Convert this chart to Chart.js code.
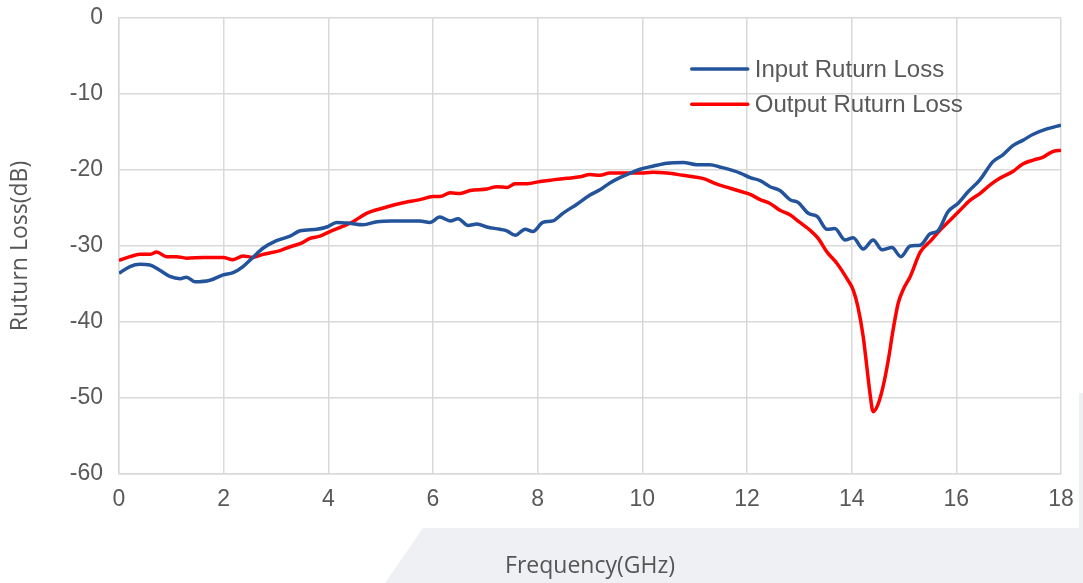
<!DOCTYPE html>
<html>
<head>
<meta charset="utf-8">
<script src="https://cdn.jsdelivr.net/npm/chart.js@4/dist/chart.umd.min.js"></script>
<style>
  html, body { margin: 0; padding: 0; background: #ffffff; }
  #wrap { position: relative; width: 1083px; height: 583px; overflow: hidden; }
  #bg { position: absolute; left: 0; top: 0; width: 1083px; height: 583px; background: #eff0f4;
        clip-path: polygon(1079px 393px, 1083px 393px, 1083px 583px, 385px 583px, 423px 528px, 1079px 528px); }
  #c { position: absolute; left: 0; top: 0; }
</style>
</head>
<body>
<div id="wrap">
  <div id="bg"></div>
  <canvas id="c" width="1083" height="583"></canvas>
</div>
<script>
// ---- data ----
const xTicks = [0, 2, 4, 6, 8, 10, 12, 14, 16, 18];
const yTicks = [0, -10, -20, -30, -40, -50, -60];
const seriesNames = ["Input Ruturn Loss", "Output Ruturn Loss"];

const inputFreq = [0, 0.21, 0.4, 0.59, 0.78, 0.97, 1.17, 1.29, 1.45, 1.74, 1.99, 2.18, 2.37, 2.56, 2.75, 3.01, 3.27, 3.46, 3.78, 3.97, 4.16, 4.4, 4.66, 4.93, 5.2, 5.56, 5.75, 5.94, 6.13, 6.33, 6.48, 6.67, 6.84, 7.03, 7.28, 7.41, 7.57, 7.76, 7.91, 8.1, 8.29, 8.48, 8.75, 9.0, 9.19, 9.38, 9.57, 9.77, 9.96, 10.2, 10.47, 10.78, 11.04, 11.29, 11.48, 11.87, 12.06, 12.25, 12.44, 12.63, 12.82, 12.98, 13.17, 13.34, 13.53, 13.68, 13.87, 14.03, 14.22, 14.41, 14.58, 14.77, 14.94, 15.12, 15.31, 15.5, 15.65, 15.84, 16.03, 16.22, 16.45, 16.7, 16.89, 17.08, 17.27, 17.47, 17.73, 18.0];
const inputLoss = [-33.6, -32.7, -32.4, -32.5, -33.2, -34.0, -34.3, -34.1, -34.7, -34.5, -33.8, -33.5, -32.7, -31.5, -30.3, -29.3, -28.7, -28.0, -27.8, -27.5, -26.9, -27.0, -27.2, -26.8, -26.7, -26.7, -26.7, -26.9, -26.2, -26.7, -26.4, -27.3, -27.1, -27.5, -27.8, -28.0, -28.6, -27.8, -28.1, -26.9, -26.7, -25.7, -24.5, -23.3, -22.6, -21.7, -21.0, -20.4, -19.9, -19.5, -19.1, -19.0, -19.3, -19.3, -19.6, -20.4, -21.0, -21.4, -22.2, -22.7, -23.9, -24.3, -25.7, -26.1, -27.8, -27.7, -29.2, -28.9, -30.4, -29.2, -30.5, -30.2, -31.4, -30.0, -29.9, -28.4, -28.0, -25.5, -24.4, -22.9, -21.3, -18.9, -18.0, -16.8, -16.1, -15.3, -14.6, -14.1];

const outputFreq = [0, 0.21, 0.4, 0.59, 0.72, 0.91, 1.1, 1.29, 1.61, 1.99, 2.18, 2.37, 2.56, 2.75, 3.08, 3.27, 3.46, 3.65, 3.84, 4.03, 4.28, 4.47, 4.73, 5.05, 5.37, 5.75, 6.0, 6.13, 6.33, 6.52, 6.71, 7.03, 7.22, 7.41, 7.57, 7.8, 8.05, 8.29, 8.56, 8.81, 9.0, 9.19, 9.38, 9.71, 9.96, 10.2, 10.47, 10.78, 10.97, 11.2, 11.4, 11.68, 11.87, 12.06, 12.25, 12.44, 12.63, 12.82, 13.01, 13.2, 13.36, 13.53, 13.72, 13.91, 14.03, 14.12, 14.22, 14.29, 14.35, 14.41, 14.5, 14.6, 14.7, 14.79, 14.89, 14.98, 15.12, 15.31, 15.5, 15.69, 15.88, 16.07, 16.26, 16.45, 16.64, 16.83, 17.08, 17.27, 17.47, 17.66, 17.83, 18.0];
const outputLoss = [-31.9, -31.4, -31.1, -31.1, -30.8, -31.4, -31.4, -31.6, -31.5, -31.5, -31.8, -31.3, -31.5, -31.1, -30.6, -30.1, -29.7, -29.0, -28.7, -28.1, -27.4, -26.8, -25.7, -25.0, -24.4, -23.9, -23.5, -23.5, -23.0, -23.1, -22.7, -22.5, -22.2, -22.3, -21.8, -21.8, -21.5, -21.3, -21.1, -20.9, -20.6, -20.7, -20.4, -20.4, -20.4, -20.3, -20.4, -20.7, -20.9, -21.2, -21.8, -22.4, -22.8, -23.2, -23.9, -24.4, -25.3, -25.9, -26.9, -27.9, -29.0, -30.8, -32.3, -34.3, -35.8, -38.0, -41.9, -45.9, -49.4, -51.8, -50.9, -48.5, -45.0, -41.1, -37.5, -35.8, -34.0, -30.8, -29.4, -27.9, -26.6, -25.3, -24.0, -23.1, -22.0, -21.1, -20.2, -19.2, -18.7, -18.3, -17.6, -17.4];

// ---- styles ----
const BLUE = '#22539b';
const RED = '#ff0000';
const TEXT = '#595959';
const GRID = '#d9d9d9';

const toPts = (xs, ys) => xs.map((x, i) => ({ x: x, y: ys[i] }));

const legendPlugin = {
  id: 'insideLegend',
  afterDatasetsDraw(chart) {
    const { ctx, chartArea } = chart;
    const w = chartArea.right - chartArea.left;
    const h = chartArea.bottom - chartArea.top;
    const x0 = chartArea.left + w * 0.608;
    const lineLen = 56;
    const rows = [chartArea.top + h * 0.112, chartArea.top + h * 0.189];
    ctx.save();
    ctx.font = '24px "Liberation Sans", Arial, sans-serif';
    ctx.textBaseline = 'middle';
    ctx.textAlign = 'left';
    chart.data.datasets.forEach((ds, i) => {
      const y = rows[i];
      ctx.strokeStyle = ds.borderColor;
      ctx.lineWidth = 3.5;
      ctx.lineCap = 'round';
      ctx.beginPath();
      ctx.moveTo(x0, y);
      ctx.lineTo(x0 + lineLen, y);
      ctx.stroke();
      ctx.fillStyle = TEXT;
      ctx.fillText(ds.label, x0 + lineLen + 7, y + 1);
    });
    ctx.restore();
  }
};

new Chart(document.getElementById('c'), {
  type: 'line',
  data: {
    datasets: [
      { label: seriesNames[0], data: toPts(inputFreq, inputLoss), borderColor: BLUE, borderWidth: 3.5,
        pointRadius: 0, cubicInterpolationMode: 'monotone', fill: false },
      { label: seriesNames[1], data: toPts(outputFreq, outputLoss), borderColor: RED, borderWidth: 3.5,
        pointRadius: 0, cubicInterpolationMode: 'monotone', fill: false }
    ]
  },
  options: {
    responsive: false,
    animation: false,
    layout: { padding: { left: 0, top: 18, right: 22, bottom: 0 } },
    plugins: { legend: { display: false }, tooltip: { enabled: false } },
    scales: {
      x: {
        type: 'linear', min: 0, max: 18,
        afterBuildTicks: (s) => { s.ticks = xTicks.map(v => ({ value: v })); },
        afterFit: (s) => { s.height = 109; s.paddingLeft = 0; s.paddingRight = 0; },
        grid: { color: GRID, lineWidth: 1.5, drawTicks: false },
        border: { color: GRID, width: 1.5 },
        ticks: { color: TEXT, padding: 12, maxRotation: 0, font: { family: '"Liberation Sans", Arial, sans-serif', size: 23 } },
        title: { display: true, text: 'Frequency(GHz)', color: '#555555', padding: { top: 0, bottom: 3 },
                 font: { family: '"Open Sans", sans-serif', size: 23 } }
      },
      y: {
        type: 'linear', min: -60, max: 0,
        afterBuildTicks: (s) => { s.ticks = yTicks.map(v => ({ value: v })); },
        afterFit: (s) => { s.width = 119; s.paddingTop = 0; s.paddingBottom = 0; },
        grid: { color: GRID, lineWidth: 1.5, drawTicks: false },
        border: { color: GRID, width: 1.5 },
        ticks: { color: TEXT, padding: 16, font: { family: '"Liberation Sans", Arial, sans-serif', size: 23 } },
        title: { display: true, text: 'Ruturn Loss(dB)', color: '#555555', padding: { top: 7, bottom: 0 },
                 font: { family: '"Open Sans", sans-serif', size: 23 } }
      }
    }
  },
  plugins: [legendPlugin]
});
</script>
</body>
</html>
